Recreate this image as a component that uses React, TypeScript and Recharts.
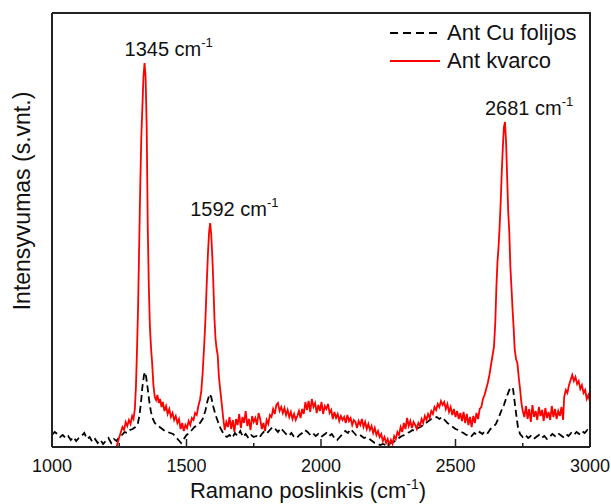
import React from "react";
import { LineChart, Line, XAxis, YAxis, ReferenceDot } from "recharts";

const FONT = "'Liberation Sans', Arial, sans-serif";

// Raman shift (cm-1) vs intensity (arb. units)
const cuFolijosPoints: [number, number][] = [
  [1000, 12], [1010, 15], [1020, 13], [1030, 10], [1040, 12], [1050, 9], [1060, 11], [1070, 7],
  [1080, 10], [1090, 6], [1100, 9], [1110, 11], [1120, 14], [1130, 8], [1140, 10], [1150, 5],
  [1160, 8], [1170, 4], [1180, 7], [1190, 3], [1200, 6], [1210, 9], [1220, 4], [1230, 8],
  [1240, 6], [1250, 10], [1260, 12], [1270, 15], [1280, 14], [1290, 17], [1300, 18], [1310, 20],
  [1318, 22], [1324, 30], [1330, 42], [1336, 60], [1342, 72], [1346, 75], [1350, 70], [1356, 58],
  [1362, 45], [1368, 35], [1375, 28], [1382, 24], [1390, 22], [1400, 20], [1410, 18], [1420, 16],
  [1430, 15], [1440, 14], [1450, 13], [1460, 10], [1470, 7], [1480, 4], [1490, 8], [1500, 12],
  [1510, 14], [1520, 17], [1530, 20], [1540, 22], [1550, 24], [1560, 28], [1570, 36], [1578, 46],
  [1586, 53], [1592, 50], [1600, 40], [1608, 32], [1616, 26], [1624, 20], [1632, 16], [1640, 12],
  [1650, 10], [1660, 12], [1670, 9], [1680, 14], [1690, 11], [1700, 16], [1710, 10], [1720, 13],
  [1730, 9], [1740, 12], [1750, 10], [1760, 11], [1770, 9], [1780, 13], [1790, 16], [1800, 14],
  [1810, 17], [1820, 20], [1830, 18], [1840, 15], [1850, 19], [1860, 16], [1870, 13], [1880, 11],
  [1890, 14], [1900, 10], [1910, 9], [1920, 12], [1930, 14], [1940, 17], [1950, 15], [1960, 12],
  [1970, 14], [1980, 11], [1990, 13], [2000, 10], [2010, 12], [2020, 14], [2030, 11], [2040, 13],
  [2050, 9], [2060, 7], [2070, 10], [2080, 13], [2090, 16], [2100, 14], [2110, 18], [2120, 15],
  [2130, 12], [2140, 13], [2150, 11], [2160, 9], [2170, 10], [2180, 8], [2190, 6], [2200, 4],
  [2210, 3], [2220, 2], [2230, 3], [2240, 2], [2250, 3], [2260, 4], [2270, 5], [2280, 7],
  [2290, 9], [2300, 11], [2310, 12], [2320, 14], [2330, 15], [2340, 17], [2350, 16], [2360, 19],
  [2370, 20], [2380, 22], [2390, 24], [2400, 26], [2410, 28], [2420, 29], [2430, 30], [2440, 28],
  [2450, 30], [2460, 27], [2470, 24], [2480, 22], [2490, 20], [2500, 18], [2510, 17], [2520, 15],
  [2530, 14], [2540, 12], [2550, 13], [2560, 11], [2570, 14], [2580, 12], [2590, 15], [2600, 13],
  [2610, 16], [2620, 14], [2630, 18], [2640, 20], [2650, 23], [2660, 29], [2670, 36], [2680, 42],
  [2690, 50], [2700, 57], [2708, 60], [2714, 58], [2720, 45], [2726, 32], [2732, 20], [2740, 13],
  [2750, 10], [2760, 12], [2770, 9], [2780, 11], [2790, 8], [2800, 10], [2810, 12], [2820, 9],
  [2830, 11], [2840, 8], [2850, 10], [2860, 13], [2870, 11], [2880, 14], [2890, 12], [2900, 10],
  [2910, 13], [2920, 11], [2930, 14], [2940, 12], [2950, 15], [2960, 13], [2970, 16], [2980, 14],
  [2990, 17], [3000, 14],
];

const kvarcoPoints: [number, number][] = [
  [1240, 0], [1248, 8], [1255, 14], [1262, 20], [1268, 17], [1274, 25], [1280, 21], [1286, 27],
  [1292, 23], [1298, 31], [1303, 28], [1308, 38], [1312, 60], [1316, 97], [1320, 140], [1324, 200],
  [1328, 260], [1332, 310], [1336, 340], [1340, 370], [1344, 384], [1348, 370], [1352, 320], [1356, 220],
  [1360, 160], [1364, 120], [1368, 100], [1372, 85], [1377, 62], [1382, 50], [1387, 47], [1392, 52],
  [1397, 44], [1402, 48], [1407, 40], [1412, 45], [1418, 36], [1424, 41], [1430, 33], [1436, 38],
  [1442, 30], [1448, 34], [1454, 27], [1460, 31], [1466, 24], [1472, 28], [1478, 18], [1484, 24],
  [1490, 16], [1496, 22], [1502, 19], [1508, 26], [1514, 22], [1520, 29], [1526, 27], [1532, 34],
  [1538, 32], [1544, 41], [1550, 47], [1555, 56], [1560, 74], [1565, 98], [1570, 125], [1575, 162],
  [1580, 195], [1584, 215], [1588, 224], [1592, 212], [1596, 190], [1600, 162], [1604, 128], [1608, 108],
  [1612, 98], [1616, 92], [1620, 72], [1625, 58], [1630, 46], [1636, 30], [1642, 17], [1648, 25],
  [1654, 20], [1660, 30], [1666, 18], [1672, 27], [1678, 15], [1684, 28], [1690, 22], [1696, 33],
  [1702, 19], [1708, 30], [1714, 24], [1720, 36], [1726, 21], [1732, 28], [1738, 17], [1744, 31],
  [1750, 25], [1756, 29], [1762, 22], [1768, 34], [1774, 28], [1780, 18], [1786, 24], [1792, 16],
  [1798, 27], [1804, 23], [1810, 32], [1816, 30], [1822, 38], [1828, 33], [1834, 42], [1840, 44],
  [1846, 36], [1852, 40], [1858, 34], [1864, 39], [1870, 32], [1876, 37], [1882, 30], [1888, 35],
  [1894, 28], [1900, 33], [1906, 27], [1912, 31], [1918, 36], [1924, 29], [1930, 38], [1936, 33],
  [1942, 45], [1948, 37], [1954, 46], [1960, 35], [1966, 48], [1972, 40], [1978, 44], [1984, 34],
  [1990, 42], [1996, 36], [2002, 45], [2008, 33], [2014, 41], [2020, 38], [2026, 43], [2032, 34],
  [2038, 37], [2044, 28], [2050, 35], [2056, 29], [2062, 33], [2068, 26], [2074, 31], [2080, 27],
  [2086, 30], [2092, 24], [2098, 32], [2104, 26], [2110, 29], [2116, 22], [2122, 27], [2128, 25],
  [2134, 19], [2140, 26], [2146, 22], [2152, 28], [2158, 20], [2164, 25], [2170, 18], [2176, 23],
  [2182, 17], [2188, 21], [2194, 14], [2200, 19], [2206, 12], [2212, 16], [2218, 10], [2224, 13],
  [2230, 6], [2236, 10], [2242, 4], [2248, 8], [2254, 2], [2260, 7], [2266, 3], [2272, 11],
  [2278, 8], [2284, 15], [2290, 12], [2296, 20], [2302, 15], [2308, 24], [2314, 18], [2320, 29],
  [2326, 21], [2332, 26], [2338, 19], [2344, 25], [2350, 22], [2356, 18], [2362, 24], [2368, 21],
  [2374, 28], [2380, 24], [2386, 31], [2392, 27], [2398, 33], [2404, 29], [2410, 36], [2416, 33],
  [2422, 40], [2428, 37], [2434, 43], [2440, 40], [2446, 46], [2452, 42], [2458, 45], [2464, 38],
  [2470, 43], [2476, 35], [2482, 40], [2488, 32], [2494, 38], [2500, 30], [2506, 36], [2512, 28],
  [2518, 34], [2524, 26], [2530, 35], [2536, 24], [2542, 33], [2548, 22], [2554, 30], [2560, 20],
  [2566, 31], [2572, 24], [2578, 34], [2584, 28], [2590, 38], [2596, 40], [2602, 48], [2608, 52],
  [2614, 58], [2620, 64], [2626, 72], [2632, 82], [2638, 92], [2643, 100], [2648, 125], [2652, 160],
  [2656, 185], [2660, 200], [2664, 220], [2668, 245], [2672, 275], [2676, 300], [2680, 320], [2684, 325],
  [2688, 305], [2692, 270], [2696, 235], [2700, 215], [2704, 180], [2708, 160], [2712, 138], [2716, 120],
  [2720, 98], [2725, 88], [2730, 84], [2735, 70], [2740, 58], [2745, 44], [2750, 36], [2756, 30],
  [2762, 41], [2768, 28], [2774, 38], [2780, 25], [2786, 42], [2792, 30], [2798, 36], [2804, 27],
  [2810, 40], [2816, 31], [2822, 37], [2828, 26], [2834, 39], [2840, 29], [2846, 35], [2852, 27],
  [2858, 41], [2864, 30], [2870, 38], [2876, 28], [2882, 36], [2888, 31], [2894, 40], [2900, 27],
  [2904, 50], [2910, 57], [2916, 54], [2922, 62], [2928, 67], [2934, 72], [2940, 66], [2946, 70],
  [2952, 63], [2958, 66], [2964, 58], [2970, 62], [2976, 54], [2982, 57], [2988, 48], [2994, 52],
  [3000, 45],
];

const xTicks = [1000, 1250, 1500, 1750, 2000, 2250, 2500, 2750, 3000];
const peakLabels = [
  { w: 1344, v: 384, text: "1345" },
  { w: 1588, v: 224, text: "1592" },
  { w: 2684, v: 325, text: "2681" },
];
const seriesNames = ["Ant Cu folijos", "Ant kvarco"];

const cuData = cuFolijosPoints.map(([w, v]) => ({ w, v }));
const kvarcoData = kvarcoPoints.map(([w, v]) => ({ w, v }));

const X_MIN = 1000;
const X_MAX = 3000;
const Y_MAX = 434;
const AXIS = "#222";
const CHART_W = 611;
const CHART_H = 504;
const MARGIN = { top: 13, right: 21, left: 0, bottom: 27 };

function AxisTick(props: any) {
  const { x, y, payload } = props;
  const major = payload.value % 500 === 0;
  return (
    <g>
      <line x1={x} y1={y} x2={x} y2={y - (major ? 8 : 4)} stroke={AXIS} strokeWidth={1.5} />
      {major && (
        <text x={x} y={y + 25} textAnchor="middle" fontSize={18} fontFamily={FONT} fill="#111">
          {payload.value}
        </text>
      )}
    </g>
  );
}

function PeakLabel({ viewBox, text }: any) {
  if (!viewBox) return null;
  const cx = viewBox.x + viewBox.width / 2;
  const cy = viewBox.y + viewBox.height / 2;
  return (
    <text x={cx - 20} y={cy - 7} fontSize={20} fontFamily={FONT} fill="#111">
      <tspan>{text} cm</tspan>
      <tspan dy={-9} fontSize={13}>-1</tspan>
    </text>
  );
}

// y title plus the top and right edges of the plot frame
function YTitleAndFrame({ viewBox }: any) {
  if (!viewBox) return null;
  const left = viewBox.x + viewBox.width;
  const top = viewBox.y;
  const bottom = viewBox.y + viewBox.height;
  const right = CHART_W - MARGIN.right;
  const cx = 22;
  const cy = top + viewBox.height / 2 - 29;
  return (
    <g>
      <polyline points={`${left},${top} ${right},${top} ${right},${bottom}`} fill="none" stroke={AXIS} strokeWidth={2} />
      <text x={cx} y={cy} transform={`rotate(-90 ${cx} ${cy})`} textAnchor="middle" dominantBaseline="central" fontSize={23} fontFamily={FONT} fill="#111">
        Intensyvumas (s.vnt.)
      </text>
    </g>
  );
}

function LegendBox() {
  return (
    <svg width={215} height={60} style={{ position: "absolute", top: 18, left: 386 }}>
      <line x1={4} y1={15} x2={54} y2={15} stroke="#000" strokeWidth={2} strokeDasharray="8 5" />
      <text x={61} y={22} fontSize={22} fontFamily={FONT} fill="#111">{seriesNames[0]}</text>
      <line x1={4} y1={43} x2={54} y2={43} stroke="#ff0000" strokeWidth={2} />
      <text x={61} y={50} fontSize={22} fontFamily={FONT} fill="#111">{seriesNames[1]}</text>
    </svg>
  );
}

export default function App() {
  return (
    <div style={{ position: "relative", width: CHART_W, height: CHART_H, background: "#fff" }}>
      <style>{"body{margin:0}"}</style>
      <LineChart width={CHART_W} height={CHART_H} margin={MARGIN}>
        <XAxis
          dataKey="w"
          type="number"
          domain={[X_MIN, X_MAX]}
          ticks={xTicks}
          interval={0}
          tickSize={0}
          tickMargin={0}
          axisLine={{ stroke: AXIS, strokeWidth: 2 }}
          tick={<AxisTick />}
          height={30}
          label={({ viewBox }: any) => (
            <text x={viewBox.x + viewBox.width / 2 - 13} y={498} textAnchor="middle" fontSize={22} fontFamily={FONT} fill="#111">
              <tspan>Ramano poslinkis (cm</tspan>
              <tspan dy={-9} fontSize={14}>-1</tspan>
              <tspan dy={9}>)</tspan>
            </text>
          )}
        />
        <YAxis
          type="number"
          domain={[0, Y_MAX]}
          width={52}
          tick={false}
          tickLine={false}
          axisLine={{ stroke: AXIS, strokeWidth: 2 }}
          label={(lp: any) => <YTitleAndFrame {...lp} />}
        />
        <Line data={cuData} dataKey="v" name={seriesNames[0]} type="linear" stroke="#000" strokeWidth={1.8} strokeDasharray="7 4" dot={false} isAnimationActive={false} />
        <Line data={kvarcoData} dataKey="v" name={seriesNames[1]} type="linear" stroke="#ff0000" strokeWidth={1.8} dot={false} isAnimationActive={false} />
        {peakLabels.map((p) => (
          <ReferenceDot key={p.text} x={p.w} y={p.v} r={1} fill="none" stroke="none" label={(lp: any) => <PeakLabel {...lp} text={p.text} />} />
        ))}
      </LineChart>
      <LegendBox />
    </div>
  );
}
